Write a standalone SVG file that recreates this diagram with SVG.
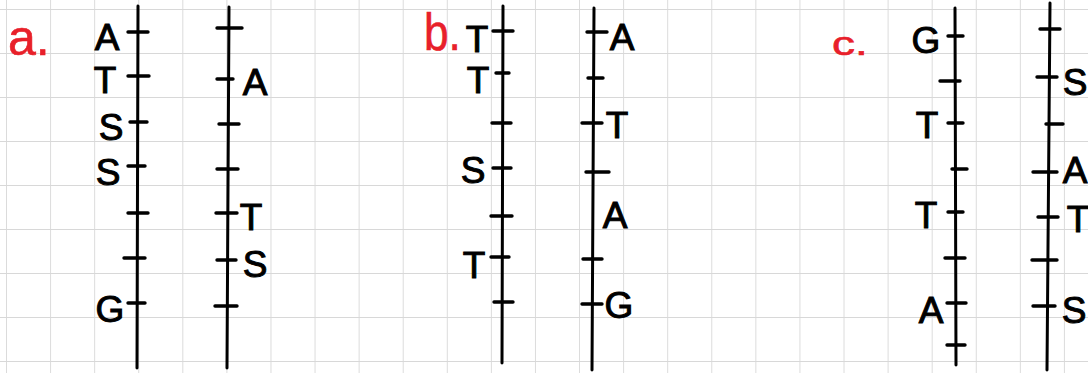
<svg xmlns="http://www.w3.org/2000/svg" width="1088" height="373" viewBox="0 0 1088 373">
<defs>
<pattern id="grid" x="6" y="9" width="44.08" height="44" patternUnits="userSpaceOnUse">
<path d="M0,0 H44.08 M0,0 V44" fill="none" stroke="#d8d8d8" stroke-width="1.8"/>
</pattern>
<style>
.strand{fill:none;stroke:#000;stroke-width:3;stroke-linecap:round}
.tick{fill:none;stroke:#000;stroke-width:3.4;stroke-linecap:round}
.lbl{font-family:"Liberation Sans",Arial,sans-serif;font-size:37px;fill:#000;stroke:#000;stroke-width:1;text-anchor:middle}
.tag{font-family:"Liberation Sans",Arial,sans-serif;fill:#e8202a;stroke:#e8202a;stroke-width:0.6}
</style>
</defs>
<rect width="1088" height="373" fill="#fff"/>
<rect width="1088" height="373" fill="url(#grid)"/>

<g id="tags">
<text class="tag" x="8" y="55" font-size="50">a.</text>
<text class="tag" transform="translate(424,50) scale(0.85,1)" x="0" y="0" font-size="52">b.</text>
<text class="tag" transform="translate(832,55) scale(1.35,1)" x="0" y="0" font-size="34">c.</text>
</g>

<g id="connectors">
<path class="strand" d="M138,6 L137,368"/>
<path class="strand" d="M229,7 L227,368"/>
<path class="strand" d="M503,6 L502,363"/>
<path class="strand" d="M594,8 L592,370"/>
<path class="strand" d="M955,8 L956,365"/>
<path class="strand" d="M1050,3 L1047,370"/>
</g>

<g id="a-left">
<path class="tick" d="M128,32H148 M128,76H149 M130,122H147 M128,166H145 M128,213H148 M124,258H145 M128,303H145"/>
<text class="lbl" x="107" y="50">A</text>
<text class="lbl" x="105" y="93">T</text>
<text class="lbl" x="111" y="140">S</text>
<text class="lbl" x="108" y="185">S</text>
<text class="lbl" x="110" y="322">G</text>
</g>

<g id="a-right">
<path class="tick" d="M217,28H242 M217,79H233 M219,124H239 M217,169H238 M216,213H237 M217,260H236 M215,306H237"/>
<text class="lbl" x="255" y="95">A</text>
<text class="lbl" x="251" y="230">T</text>
<text class="lbl" x="255" y="277">S</text>
</g>

<g id="b-left">
<path class="tick" d="M493,31H513 M496,73H509 M492,123H511 M493,168H511 M491,216H512 M491,257H509 M494,302H513"/>
<text class="lbl" x="477" y="52">T</text>
<text class="lbl" x="478" y="93">T</text>
<text class="lbl" x="473" y="183">S</text>
<text class="lbl" x="474" y="278">T</text>
</g>

<g id="b-right">
<path class="tick" d="M587,32H607 M588,78H603 M582,123H602 M586,172H609 M583,259H602 M582,304H602"/>
<text class="lbl" x="622" y="50">A</text>
<text class="lbl" x="617" y="138">T</text>
<text class="lbl" x="615" y="228">A</text>
<text class="lbl" x="619" y="318">G</text>
</g>

<g id="c-left">
<path class="tick" d="M948,36H963 M940,81H960 M948,123H963 M952,169H967 M948,212H963 M945,258H965 M947,303H966 M947,345H965"/>
<text class="lbl" x="926" y="53">G</text>
<text class="lbl" x="927" y="138">T</text>
<text class="lbl" x="926" y="228">T</text>
<text class="lbl" x="931" y="323">A</text>
</g>

<g id="c-right">
<path class="tick" d="M1040,29H1060 M1037,77H1057 M1046,124H1063 M1033,172H1057 M1038,217H1058 M1032,260H1057 M1033,306H1055"/>
<text class="lbl" x="1075" y="95">S</text>
<text class="lbl" x="1075" y="183">A</text>
<text class="lbl" x="1078" y="232">T</text>
<text class="lbl" x="1074" y="323">S</text>
</g>
</svg>
